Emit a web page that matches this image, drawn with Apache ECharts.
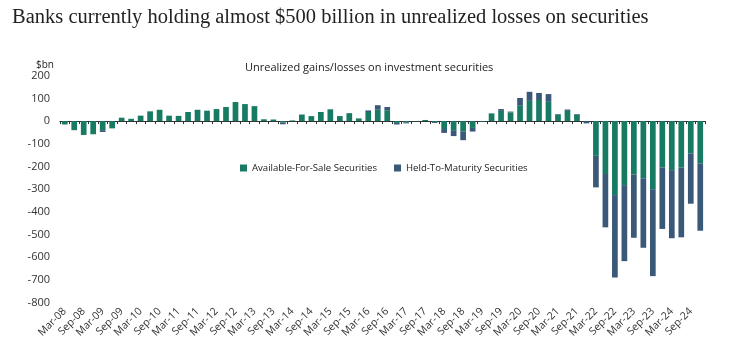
<!DOCTYPE html>
<html>
<head>
<meta charset="utf-8">
<script src="https://cdn.jsdelivr.net/npm/echarts@6/dist/echarts.min.js"></script>
<style>
  html, body { margin: 0; padding: 0; background: #fff; }
  #chart { width: 740px; height: 352px; }
</style>
</head>
<body>
<div id="chart"></div>
<script>
  // quarters, Mar-08 .. Dec-24
  var quarters = [
    'Mar-08','Jun-08','Sep-08','Dec-08','Mar-09','Jun-09','Sep-09','Dec-09',
    'Mar-10','Jun-10','Sep-10','Dec-10','Mar-11','Jun-11','Sep-11','Dec-11',
    'Mar-12','Jun-12','Sep-12','Dec-12','Mar-13','Jun-13','Sep-13','Dec-13',
    'Mar-14','Jun-14','Sep-14','Dec-14','Mar-15','Jun-15','Sep-15','Dec-15',
    'Mar-16','Jun-16','Sep-16','Dec-16','Mar-17','Jun-17','Sep-17','Dec-17',
    'Mar-18','Jun-18','Sep-18','Dec-18','Mar-19','Jun-19','Sep-19','Dec-19',
    'Mar-20','Jun-20','Sep-20','Dec-20','Mar-21','Jun-21','Sep-21','Dec-21',
    'Mar-22','Jun-22','Sep-22','Dec-22','Mar-23','Jun-23','Sep-23','Dec-23',
    'Mar-24','Jun-24','Sep-24','Dec-24'
  ];

  // $bn
  var afs = [
    -15, -40, -61, -58, -40, -32, 15, 10,
    24, 43, 50, 24, 23, 40, 50, 46,
    53, 62, 84, 75, 66, 8, 7, -6,
    3, 29, 22, 40, 52, 22, 35, 12,
    40, 50, 48, -8, -5, -1, 5, -4,
    -35, -40, -45, -30, -2, 34, 45, 38,
    70, 89, 93, 85, 28, 45, 28, -2,
    -153, -233, -326, -282, -235, -252, -300, -204,
    -216, -204, -142, -186
  ];
  var htm = [
    0, 0, 0, 0, -8, 0, 0, 0,
    0, 0, 0, 0, 0, 0, 0, 0,
    0, 0, 0, 0, 0, 0, 0, -8,
    0, 0, 0, 0, 0, 0, 0, 0,
    7, 20, 14, -7, -5, 0, 0, -4,
    -17, -26, -39, -16, -1, 0, 8, 4,
    32, 40, 31, 34, 3, 6, 3, -8,
    -139, -235, -363, -335, -279, -306, -383, -271,
    -300, -308, -222, -297
  ];

  var yTicks = [200, 100, 0, -100, -200, -300, -400, -500, -600, -700, -800];

  var sans = '"Open Sans", "Noto Sans", sans-serif';

  var option = {
    backgroundColor: '#fff',
    animation: false,
    title: [
      {
        text: 'Banks currently holding almost $500 billion in unrealized losses on securities',
        left: 7, top: 2,
        textStyle: { fontFamily: '"Liberation Serif", serif', fontWeight: 'normal', fontSize: 20.5, color: '#222' }
      },
      {
        text: 'Unrealized gains/losses on investment securities',
        left: 240, top: 57,
        textStyle: { fontFamily: sans, fontWeight: 'normal', fontSize: 11, color: '#222' }
      },
      {
        text: '$bn',
        left: 31, top: 55,
        textStyle: { fontFamily: sans, fontWeight: 'normal', fontSize: 10, color: '#222' }
      }
    ],
    legend: {
      left: 235, top: 158,
      itemWidth: 7, itemHeight: 7, itemGap: 17,
      icon: 'rect',
      textStyle: { fontFamily: sans, fontSize: 9.6, color: '#222' },
      data: ['Available-For-Sale Securities', 'Held-To-Maturity Securities']
    },
    grid: { left: 60, right: 35, top: 75.7, bottom: 49.3 },
    xAxis: [
      {
        type: 'category',
        data: quarters,
        axisLine: { onZero: true, lineStyle: { color: '#333', width: 1 } },
        axisTick: { show: true, interval: 0, length: 3, inside: false, lineStyle: { color: '#333' } },
        axisLabel: { show: false }
      },
      {
        type: 'category',
        data: quarters,
        position: 'bottom',
        axisLine: { show: false, onZero: false },
        axisTick: { show: false },
        axisLabel: {
          interval: 1, rotate: 45, margin: 7,
          fontFamily: sans, fontSize: 10.5, color: '#333'
        }
      }
    ],
    yAxis: {
      type: 'value',
      min: -800, max: 200, interval: 100,
      axisLine: { show: false },
      axisTick: { show: false },
      splitLine: { show: false },
      axisLabel: {
        margin: 10, fontFamily: sans, fontSize: 11, color: '#333',
        formatter: function (v) { return yTicks.indexOf(v) >= 0 ? String(v) : ''; }
      }
    },
    series: [
      {
        name: 'Available-For-Sale Securities',
        type: 'bar', stack: 'total', xAxisIndex: 0,
        barWidth: '60%',
        itemStyle: { color: '#177a62' },
        data: afs
      },
      {
        name: 'Held-To-Maturity Securities',
        type: 'bar', stack: 'total', xAxisIndex: 0,
        barWidth: '60%',
        itemStyle: { color: '#3a5878' },
        data: htm
      }
    ]
  };

  var myChart = echarts.init(document.getElementById('chart'));
  myChart.setOption(option);
</script>
</body>
</html>
